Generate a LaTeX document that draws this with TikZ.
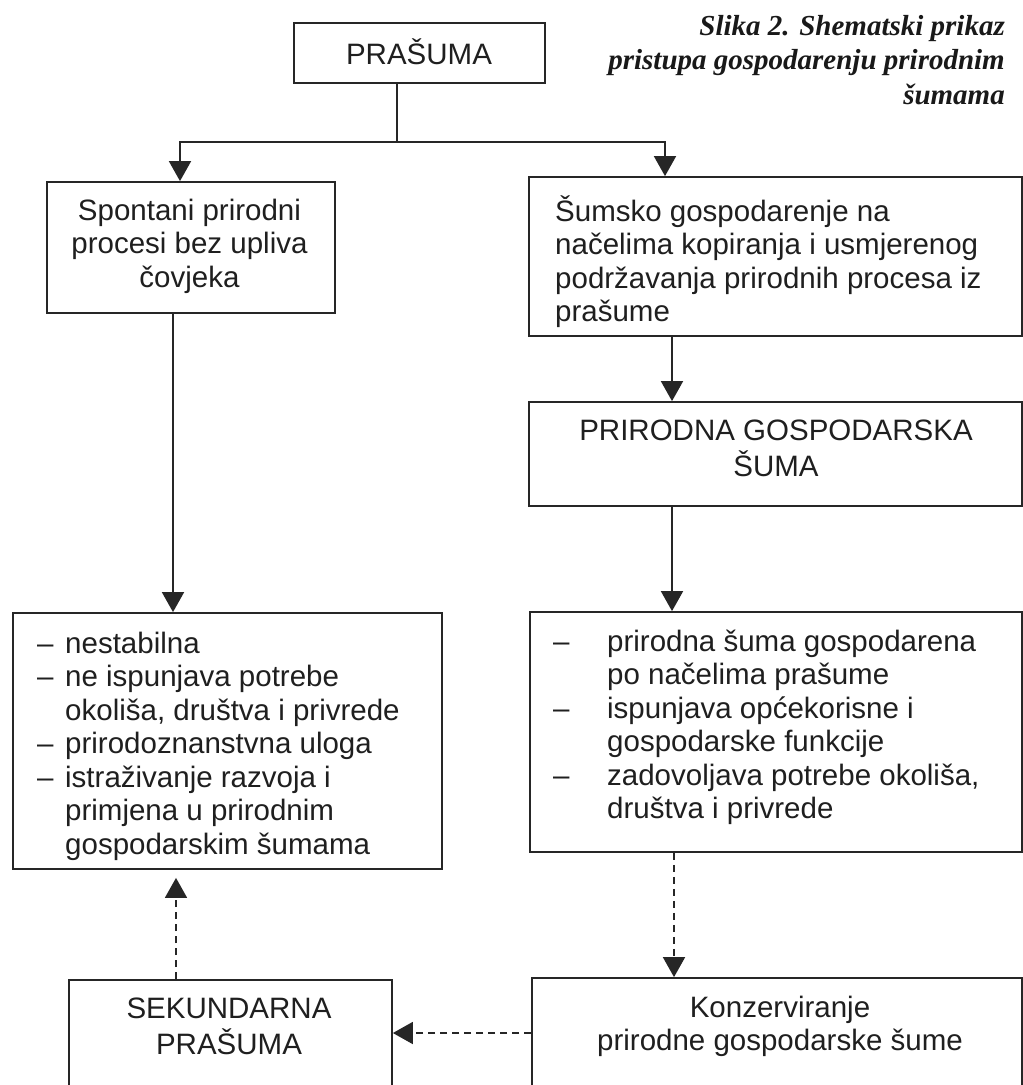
\documentclass[tikz,border=0pt]{standalone}
\usepackage{fontspec}
\setmainfont{Liberation Sans}
\newfontfamily\capfont{Liberation Serif}
\usetikzlibrary{arrows.meta}
\begin{document}
\begin{tikzpicture}[x=1pt,y=-1pt,
  box/.style={draw=black!85, line width=1.8pt, inner sep=0pt},
  txt/.style={font=\fontsize{29.5}{33.5}\selectfont, inner sep=0pt, text=black!88, anchor=north},
  ln/.style={draw=black!85, line width=1.8pt},
  arr/.style={ln, -{Triangle[width=22pt,length=20pt]}},
  dsh/.style={arr, dash pattern=on 7pt off 5pt}]
\path[use as bounding box, clip] (0,0) rectangle (1023,1085);
\fill[white] (0,0) rectangle (1023,1085);
% boxes
\node[box, minimum width=251pt, minimum height=60pt] (top) at (419.5,53) {};
\node[box, minimum width=288pt, minimum height=131pt] (spont) at (191,247.5) {};
\node[box, minimum width=493pt, minimum height=159pt] (sumsko) at (775.5,256.5) {};
\node[box, minimum width=493pt, minimum height=104pt] (prirodna) at (775.5,454) {};
\node[box, minimum width=429pt, minimum height=256pt] (llist) at (227.5,741) {};
\node[box, minimum width=492pt, minimum height=240pt] (rlist) at (776,732) {};
\node[box, minimum width=490pt, minimum height=150pt] (konz) at (777,1053) {};
\node[box, minimum width=323pt, minimum height=150pt] (sek) at (230.5,1055) {};
% texts
\node[txt] (ttop) at (419,38.5) {\strut PRAŠUMA};
\node[txt, align=center] (tspont) at (189.5,196.5) {\strut Spontani prirodni\\procesi bez upliva\\čovjeka};
\node[txt, align=left, anchor=north west] (tsumsko) at (555,195.5) {\strut Šumsko gospodarenje na\\načelima kopiranja i usmjerenog\\podržavanja prirodnih procesa iz\\prašume};
\node[txt, align=center] (tprirodna) at (776,416.5) {\strut PRIRODNA GOSPODARSKA\\ŠUMA};
\node[txt, align=left, anchor=north west] (tllist) at (37,629.5) {\strut\makebox[28pt][l]{–}nestabilna\\
\makebox[28pt][l]{–}ne ispunjava potrebe\\
\hspace*{28pt}okoliša, društva i privrede\\
\makebox[28pt][l]{–}prirodoznanstvna uloga\\
\makebox[28pt][l]{–}istraživanje razvoja i\\
\hspace*{28pt}primjena u prirodnim\\
\hspace*{28pt}gospodarskim šumama};
\node[txt, align=left, anchor=north west] (trlist) at (553,627.5) {\strut\makebox[54pt][l]{–}prirodna šuma gospodarena\\
\hspace*{54pt}po načelima prašume\\
\makebox[54pt][l]{–}ispunjava općekorisne i\\
\hspace*{54pt}gospodarske funkcije\\
\makebox[54pt][l]{–}zadovoljava potrebe okoliša,\\
\hspace*{54pt}društva i privrede};
\node[txt, align=center] (tkonz) at (780,993.5) {\strut Konzerviranje\\prirodne gospodarske šume};
\node[txt, align=center] (tsek) at (229,994.5) {\strut SEKUNDARNA\\PRAŠUMA};
\node[inner sep=0pt, anchor=north east, align=right, text=black!90,
  font=\capfont\bfseries\itshape\fontsize{29}{34.5}\selectfont] (caption) at (1005,10.85)
  {\strut Slika 2. Shematski prikaz\\pristupa gospodarenju prirodnim\\šumama};
% connectors
\coordinate (j) at (397,142);
\coordinate (jl) at (180,142);
\coordinate (jr) at (665,142);
\draw[ln] (top.south -| j) -- (j);
\draw[arr] (j) -- (jl) -- (jl |- spont.north);
\draw[arr] (j) -- (jr) -- (jr |- sumsko.north);
\coordinate (xr) at (672,0);
\draw[arr] (xr |- sumsko.south) -- (xr |- prirodna.north);
\draw[arr] (xr |- prirodna.south) -- (xr |- rlist.north);
\coordinate (xr2) at (674,0);
\draw[dsh] (xr2 |- rlist.south) -- (xr2 |- konz.north);
\coordinate (yh) at (0,1033);
\draw[dsh] (konz.west |- yh) -- (sek.east |- yh);
\coordinate (xl) at (173,0);
\draw[arr] (xl |- spont.south) -- (xl |- llist.north);
\coordinate (xl2) at (176,0);
\draw[dsh, shorten >=8pt] (xl2 |- sek.north) -- (xl2 |- llist.south);
\end{tikzpicture}
\end{document}
